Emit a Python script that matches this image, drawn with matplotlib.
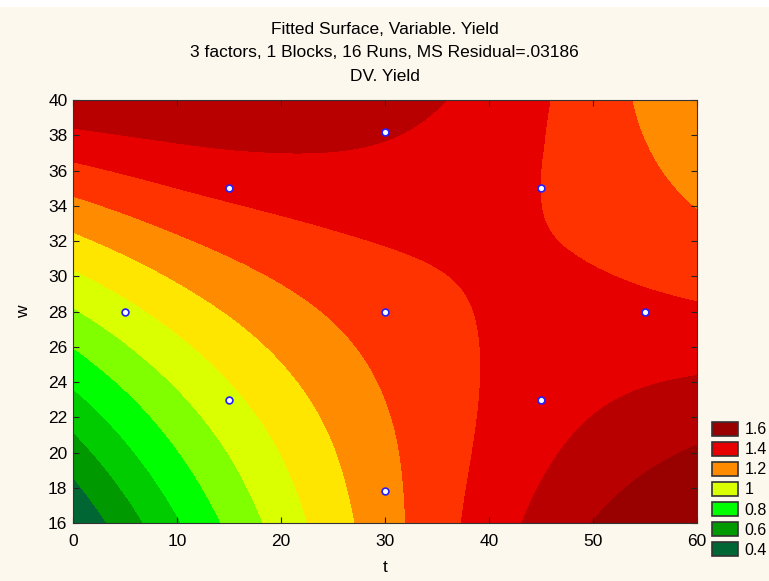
import numpy as np
import matplotlib
matplotlib.use("Agg")
import matplotlib.pyplot as plt
import matplotlib.tri as mtri
from matplotlib.patches import Patch, Rectangle

plt.rcParams["font.family"] = ["Liberation Sans", "DejaVu Sans"]

# fitted surface on a coarse grid
t_grid = [0, 10, 20, 30, 40, 50, 60]
w_grid = [16, 20, 24, 28, 32, 36, 40]
# rows = w, cols = t
yield_grid = [
    [0.405, 0.689, 0.941, 1.160, 1.347, 1.502, 1.625],
    [0.554, 0.795, 1.002, 1.178, 1.321, 1.432, 1.511],
    [0.716, 0.912, 1.076, 1.208, 1.307, 1.374, 1.409],
    [0.890, 1.042, 1.162, 1.250, 1.306, 1.325, 1.312],
    [1.076, 1.185, 1.261, 1.304, 1.312, 1.288, 1.232],
    [1.274, 1.339, 1.371, 1.369, 1.330, 1.262, 1.163],
    [1.485, 1.495, 1.488, 1.445, 1.362, 1.250, 1.108],
]

# design points
t_pts = [30, 15, 45, 5, 30, 55, 15, 45, 30]
w_pts = [38.2, 35, 35, 28, 28, 28, 23, 23, 17.8]

levels = [0.0, 0.5, 0.6, 0.7, 0.8, 0.9, 1.0, 1.1, 1.2, 1.3, 1.4, 1.5, 2.0]
band_colors = ["#006633", "#009900", "#00cc00", "#00ff00", "#80ff00", "#d9ff00",
               "#ffe600", "#ff8c00", "#ff3300", "#e60000", "#b80000", "#990000"]

legend_labels = ["1.6", "1.4", "1.2", "1", "0.8", "0.6", "0.4"]
legend_colors = ["#990000", "#e60000", "#ff8c00", "#d9ff00", "#00ff00", "#009900", "#006633"]

bg = "#fdf8ee"
fig = plt.figure(figsize=(7.69, 5.81), dpi=100, facecolor=bg)
fig.patches.append(Rectangle((0, 0.988), 1, 0.012, transform=fig.transFigure,
                             facecolor="white", edgecolor="none"))

ax = fig.add_axes([0.0949, 0.0998, 0.8114, 0.728])

T, W = np.meshgrid(t_grid, w_grid)
tri = mtri.Triangulation(T.ravel(), W.ravel())
Z = np.array(yield_grid).ravel()
interp = mtri.CubicTriInterpolator(tri, Z, kind="min_E")
refiner = mtri.UniformTriRefiner(tri)
tri_f, z_f = refiner.refine_field(Z, triinterpolator=interp, subdiv=4)
ax.tricontourf(tri_f, z_f, levels=levels, colors=band_colors, antialiased=False)

ax.scatter(t_pts, w_pts, s=24, facecolor="white", edgecolor="#2020ff",
           linewidth=1.2, zorder=5)

ax.set_xlim(0, 60)
ax.set_ylim(16, 40)
ax.set_xticks(range(0, 61, 10))
ax.set_yticks(range(16, 41, 2))
ax.tick_params(direction="in", top=True, right=True, labelsize=12.5,
               length=4, color="#222222")
ax.tick_params(axis="x", pad=8)
ax.tick_params(axis="y", pad=4)
for s in ax.spines.values():
    s.set_color("#333333")
ax.set_xlabel("t", fontsize=12.5, labelpad=8)
ax.set_ylabel("w", fontsize=12.5, labelpad=12)

fig.text(0.5, 0.950, "Fitted Surface, Variable. Yield", ha="center", va="center", fontsize=12.5)
fig.text(0.5, 0.909, "3 factors, 1 Blocks, 16 Runs, MS Residual=.03186", ha="center",
         va="center", fontsize=12.5)
fig.text(0.5, 0.868, "DV. Yield", ha="center", va="center", fontsize=12.5)

handles = [Patch(facecolor=c, edgecolor="#333333", linewidth=1.2, label=l)
           for c, l in zip(legend_colors, legend_labels)]
fig.legend(handles=handles, loc="lower left", bbox_to_anchor=(0.926, 0.04),
           frameon=False, fontsize=11.5, handlelength=1.65, handleheight=1.0,
           labelspacing=0.28, handletextpad=0.4, borderaxespad=0, borderpad=0)

fig.savefig("out.png", dpi=100, facecolor=bg)
